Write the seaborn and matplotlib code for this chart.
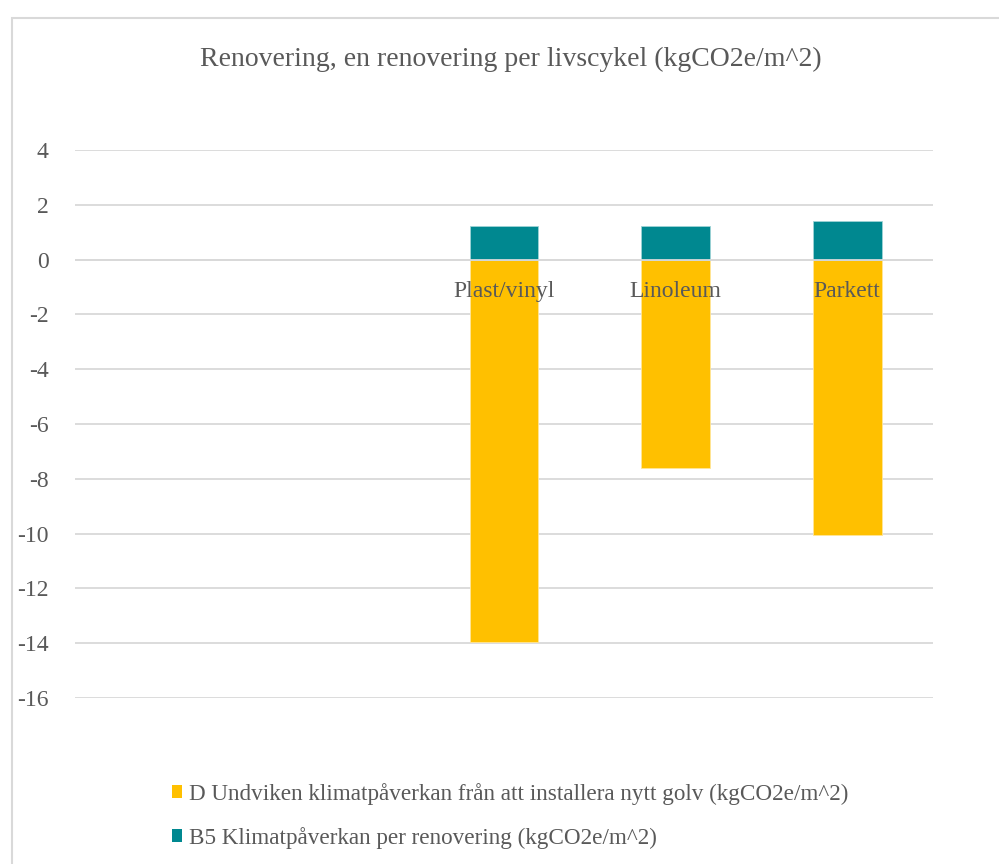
import numpy as np
import pandas as pd
import matplotlib
matplotlib.use("Agg")
import matplotlib.pyplot as plt
from matplotlib.patches import Patch, Rectangle
import seaborn as sns

# Data
kategorier = ["", " ", "Plast/vinyl", "Linoleum", "Parkett"]
golv = ["Plast/vinyl", "Linoleum", "Parkett"]
d_undviken = [-13.94, -7.62, -10.06]
b5_renovering = [1.22, 1.22, 1.41]
serie_namn = ["D Undviken klimatpåverkan från att installera nytt golv (kgCO2e/m^2)",
              "B5 Klimatpåverkan per renovering (kgCO2e/m^2)"]
yticks = list(range(-16, 5, 2))

GUL = "#FFC000"
TEAL = "#008890"
GRA_TEXT = "#595959"
GRID = "#D9D9D9"

sns.set_theme(style="white")
plt.rcParams['font.family'] = ['Liberation Serif', 'DejaVu Serif']

df = pd.DataFrame({"golv": golv, "D": d_undviken, "B5": b5_renovering})

fig = plt.figure(figsize=(9.99, 8.64), dpi=100)
ax = fig.add_axes([75/999, 1-698/864, (933-75)/999, (698-150)/864])

sns.barplot(data=df, x="golv", y="D", order=kategorier, color=GUL, width=0.4,
            saturation=1, edgecolor="#FFE699", linewidth=0.6, ax=ax)
sns.barplot(data=df, x="golv", y="B5", order=kategorier, color=TEAL, width=0.4,
            saturation=1, edgecolor="#9ED3D6", linewidth=0.6, ax=ax)

ax.set_ylim(-16, 4)
ax.set_xlim(-0.5, len(kategorier) - 0.5)
ax.set_yticks(yticks)
ax.set_yticklabels([str(t) for t in yticks], color=GRA_TEXT, fontsize=17)
ax.tick_params(axis="y", length=0, pad=19)
ax.set_xticks([])
ax.set_xlabel("")
ax.set_ylabel("")
ax.grid(axis="y", color=GRID, linewidth=1.3)
ax.set_axisbelow(True)
for s in ax.spines.values():
    s.set_visible(False)
ax.axhline(0, color=GRID, linewidth=1.3, zorder=3)

# kategorinamn vid nollinjen
for i, namn in enumerate(kategorier):
    if namn.strip():
        ax.annotate(namn, xy=(i, 0), xytext=(0, -32), textcoords="offset pixels",
                    ha="center", va="center", fontsize=17, color=GRA_TEXT, zorder=5)

fig.text(0.5 + 11/999, 1 - 59/864, "Renovering, en renovering per livscykel (kgCO2e/m^2)",
         ha="center", va="center", fontsize=20, color=GRA_TEXT)

handles = [Patch(facecolor=GUL, edgecolor="none"), Patch(facecolor=TEAL, edgecolor="none")]
fig.legend(handles, serie_namn, loc="upper left", bbox_to_anchor=(151/999, 1 - 762/864),
           frameon=False, fontsize=16.7, labelcolor=GRA_TEXT, handlelength=0.45,
           handleheight=0.45, handletextpad=0.3, labelspacing=0.95)

# ram
fig.patches.append(Rectangle((12/999, -0.01), 1.1, 1 - 18/864 + 0.01, transform=fig.transFigure,
                             fill=False, edgecolor="#D9D9D9", linewidth=1.5))

fig.savefig("out.png", dpi=100)
